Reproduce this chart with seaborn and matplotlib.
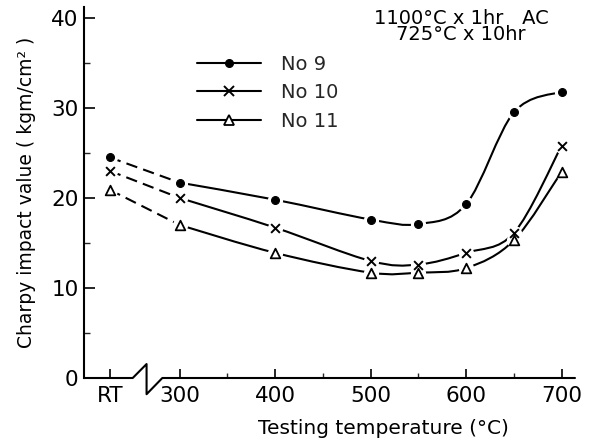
import numpy as np
import pandas as pd
import matplotlib
matplotlib.use("Agg")
import matplotlib.pyplot as plt
import seaborn as sns
from matplotlib.path import Path
from matplotlib.patches import PathPatch
from matplotlib.lines import Line2D

# ---------------- data ----------------
temp_labels = ["RT", "300", "400", "500", "550", "600", "650", "700"]
no9 = [24.5, 21.7, 19.8, 17.6, 17.1, 19.3, 29.5, 31.8]
no10 = [23.0, 20.0, 16.7, 13.0, 12.6, 13.9, 16.1, 25.8]
no11 = [20.9, 17.0, 13.9, 11.7, 11.7, 12.2, 15.3, 22.9]
series_names = ["No 9", "No 10", "No 11"]
xtick_labels = ["RT", "300", "400", "500", "600", "700"]
ytick_values = [0, 10, 20, 30, 40]

RT_POS = 227  # where "RT" sits on the (broken) temperature axis


def pos(lbl):
    return RT_POS if lbl == "RT" else float(lbl)


xpos = [pos(t) for t in temp_labels]
df = pd.DataFrame({
    "x": xpos * 3,
    "value": no9 + no10 + no11,
    "series": sum([[s] * len(xpos) for s in series_names], []),
})

sns.set_theme(style="white")
plt.rcParams["font.family"] = ["DejaVu Sans"]

fig = plt.figure(figsize=(5.97, 4.47), dpi=100)
ax = fig.add_axes([84 / 597, 69 / 447, 491 / 597, 371 / 447])
ax.set_xlim(200, 714)
ax.set_ylim(0, 41.2)

LW = 1.5


def smooth_path(xs, ys):
    pts = np.column_stack([xs, ys])
    n = len(pts)
    verts = [tuple(pts[0])]
    codes = [Path.MOVETO]
    for i in range(n - 1):
        p0 = pts[i - 1] if i > 0 else pts[i]
        p1 = pts[i]
        p2 = pts[i + 1]
        p3 = pts[i + 2] if i + 2 < n else pts[i + 1]
        c1 = p1 + (p2 - p0) / 6.0
        c2 = p2 - (p3 - p1) / 6.0
        verts += [tuple(c1), tuple(c2), tuple(p2)]
        codes += [Path.CURVE4] * 3
    return Path(verts, codes)


styles = {
    "No 9": dict(marker="o", s=32, facecolor="black", edgecolor="black", lw=0.8),
    "No 10": dict(marker="x", s=40, facecolor="black", edgecolor="black", lw=1.4),
    "No 11": dict(marker="^", s=48, facecolor="white", edgecolor="black", lw=1.3),
}

for name in series_names:
    sub = df[df.series == name].reset_index(drop=True)
    xs = sub["x"].to_numpy()
    ys = sub["value"].to_numpy()
    # dashed link from RT across the break
    ax.plot(xs[:2], ys[:2], color="black", lw=LW, dashes=(5.5, 3), zorder=2)
    # smooth solid curve from 300 onwards
    ax.add_patch(PathPatch(smooth_path(xs[1:], ys[1:]), fill=False,
                           edgecolor="black", lw=LW, zorder=2))
    # white halo to open gaps around markers
    sns.scatterplot(data=sub, x="x", y="value", ax=ax, color="white",
                    s=120, marker="o", linewidth=0, zorder=3, legend=False)
    st = styles[name]
    if st["marker"] == "x":
        sns.scatterplot(data=sub, x="x", y="value", ax=ax, marker="x",
                        s=st["s"], color="black", linewidth=st["lw"],
                        zorder=4, legend=False)
    else:
        sns.scatterplot(data=sub, x="x", y="value", ax=ax, marker=st["marker"],
                        s=st["s"], facecolor=st["facecolor"],
                        edgecolor=st["edgecolor"], linewidth=st["lw"],
                        zorder=4, legend=False)

# ---------------- axes styling ----------------
for sp in ["top", "right", "bottom"]:
    ax.spines[sp].set_visible(False)
ax.spines["left"].set_linewidth(LW)
ax.spines["left"].set_color("black")

# broken x axis line
ax.add_line(Line2D([200, 251, 265.5, 265.5, 282, 714],
                   [0, 0, 1.55, -1.8, 0, 0], color="black", lw=LW,
                   clip_on=False, zorder=5))

ax.set_xticks([pos(t) for t in xtick_labels])
ax.set_xticklabels(xtick_labels)
ax.set_xticks([350, 450, 550, 650], minor=True)
ax.set_yticks(ytick_values)
ax.set_yticks([5, 15, 25, 35], minor=True)
ax.tick_params(axis="x", which="major", direction="in", length=6.5, width=1.2,
               labelsize=15.5, pad=6, bottom=True, colors="black")
ax.tick_params(axis="x", which="minor", direction="in", length=3.5, width=1.0,
               bottom=True)
ax.tick_params(axis="y", which="major", direction="in", length=8, width=1.2,
               labelsize=15.5, pad=4, left=True, colors="black")
ax.tick_params(axis="y", which="minor", direction="in", length=4.3, width=1.0,
               left=True)

ax.set_xlabel("Testing temperature (°C)", fontsize=14.5, color="black")
ax.set_ylabel("Charpy impact value ( kgm/cm² )", fontsize=13.5, color="black")
ax.xaxis.set_label_coords((383 - 84) / 491, (378 - 419) / 371)
ax.yaxis.set_label_coords((36 - 84) / 491, (378 - 192) / 371)

# legend
handles = [
    Line2D([], [], color="black", lw=LW, marker="o", markersize=5.5),
    Line2D([], [], color="black", lw=LW, marker="x", markersize=6.5,
           markeredgewidth=1.4),
    Line2D([], [], color="black", lw=LW, marker="^", markersize=7,
           markerfacecolor="white", markeredgewidth=1.3),
]
ax.legend(handles, series_names, loc="upper left", frameon=False,
          bbox_to_anchor=((197 - 84) / 491, (378 - 54.5) / 371),
          fontsize=14, handlelength=3.3, handletextpad=1.0,
          labelspacing=0.5, borderpad=0, borderaxespad=0)

# heat-treatment note
fig.text(461 / 597, 1 - 40 / 447, "1100°C x 1hr   AC\n725°C x 10hr",
         ha="center", va="baseline", multialignment="center",
         fontsize=14, linespacing=0.8, color="black")

fig.savefig("out.png", dpi=100)
